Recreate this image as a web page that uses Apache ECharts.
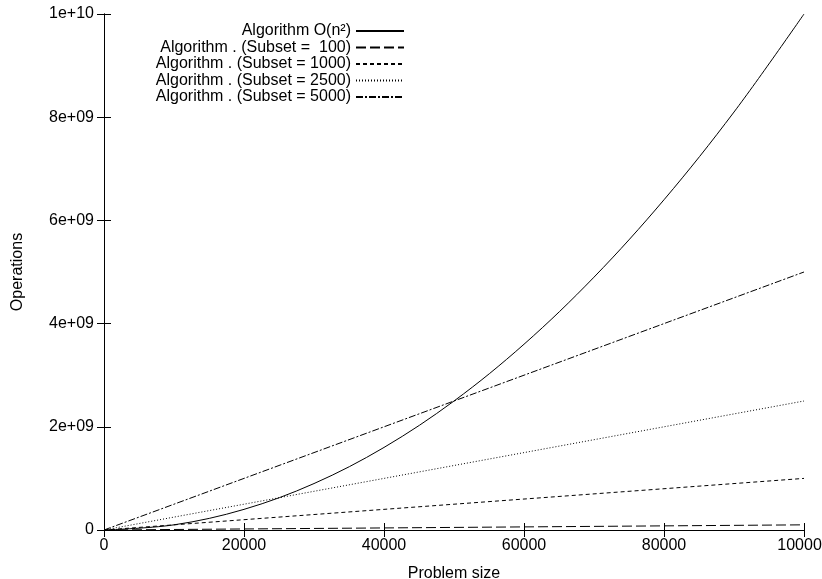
<!DOCTYPE html>
<html>
<head>
<meta charset="utf-8">
<script src="https://cdn.jsdelivr.net/npm/echarts@6/dist/echarts.min.js"></script>
<style>
  html, body { margin: 0; padding: 0; background: #fff; }
  #main { width: 822px; height: 579px; }
</style>
</head>
<body>
<div id="main"></div>
<script>
// problem sizes sampled along the x axis
var problemSize = [0, 10000, 20000, 30000, 40000, 50000, 60000, 70000, 80000, 90000, 100000]
// operations
var opsQuadratic = [0, 1e8, 4e8, 9e8, 1.6e9, 2.5e9, 3.6e9, 4.9e9, 6.4e9, 8.1e9, 1e10]
// straight lines: start and end points
var lineEnds = [0, 100000]
var opsSubset100 = [0, 1e8]
var opsSubset1000 = [0, 1e9]
var opsSubset2500 = [0, 2.5e9]
var opsSubset5000 = [0, 5e9]

var seriesNames = [
  'Algorithm O(n²)',
  'Algorithm . (Subset =  100)',
  'Algorithm . (Subset = 1000)',
  'Algorithm . (Subset = 2500)',
  'Algorithm . (Subset = 5000)'
]
var yTickLabels = ['0', '2e+09', '4e+09', '6e+09', '8e+09', '1e+10']

var font = 'Liberation Sans'
var black = '#000'

function pairs(xs, ys) {
  return xs.map(function(x, i) { return [x, ys[i]] })
}

function lineSeries(name, data, dash, smooth) {
  return {
    name: name,
    type: 'line',
    data: data,
    symbol: 'none',
    smooth: smooth ? 0.35 : false,
    lineStyle: { color: black, width: 1, type: dash },
    itemStyle: { color: black }
  }
}

var chart = echarts.init(document.getElementById('main'), null, { renderer: 'canvas' })

var axisLine = { lineStyle: { color: black, width: 1 } }
var tick = { inside: true, length: 7, lineStyle: { color: black } }

chart.setOption({
  animation: false,
  backgroundColor: '#fff',
  textStyle: { fontFamily: font },
  grid: { left: 104, right: 18, top: 14, bottom: 49, outerBoundsMode: 'none', containLabel: false },
  legend: {
    orient: 'vertical',
    align: 'right',
    right: 412,
    top: 18,
    itemWidth: 48,
    itemHeight: 14,
    itemGap: 0.5,
    data: seriesNames,
    itemStyle: { opacity: 0 },
    textStyle: { fontSize: 16, color: black, fontFamily: font }
  },
  xAxis: [{
    type: 'value',
    min: 0,
    max: 100000,
    interval: 20000,
    name: 'Problem size',
    nameLocation: 'middle',
    nameGap: 36,
    nameTextStyle: { fontSize: 16, color: black },
    axisLine: axisLine,
    axisTick: tick,
    splitLine: { show: false },
    axisLabel: {
      fontSize: 16,
      color: black,
      margin: 8,
      formatter: function(v) { return String(v) }
    }
  }, {
    type: 'value',
    position: 'top',
    min: 0,
    max: 100000,
    interval: 20000,
    axisLine: axisLine,
    axisTick: tick,
    splitLine: { show: false },
    axisLabel: { show: false }
  }],
  yAxis: [{
    type: 'value',
    min: 0,
    max: 1e10,
    interval: 2e9,
    name: 'Operations',
    nameLocation: 'middle',
    nameGap: 78,
    nameTextStyle: { fontSize: 16, color: black },
    axisLine: axisLine,
    axisTick: tick,
    splitLine: { show: false },
    axisLabel: {
      fontSize: 16,
      color: black,
      margin: 10,
      formatter: function(v) { return yTickLabels[Math.round(v / 2e9)] }
    }
  }, {
    type: 'value',
    position: 'right',
    min: 0,
    max: 1e10,
    interval: 2e9,
    axisLine: axisLine,
    axisTick: tick,
    splitLine: { show: false },
    axisLabel: { show: false }
  }],
  series: [
    lineSeries(seriesNames[0], pairs(problemSize, opsQuadratic), 'solid', true),
    lineSeries(seriesNames[1], pairs(lineEnds, opsSubset100), [10, 4]),
    lineSeries(seriesNames[2], pairs(lineEnds, opsSubset1000), [4, 3]),
    lineSeries(seriesNames[3], pairs(lineEnds, opsSubset2500), [1, 2]),
    lineSeries(seriesNames[4], pairs(lineEnds, opsSubset5000), [7, 2, 2, 2])
  ]
})
</script>
</body>
</html>
